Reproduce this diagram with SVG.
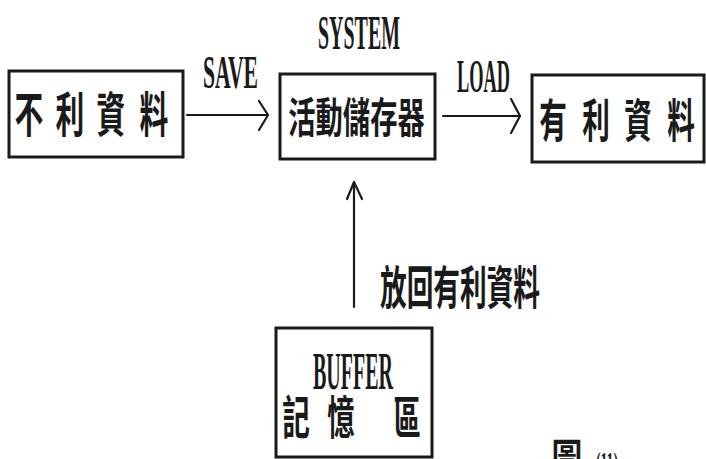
<svg xmlns="http://www.w3.org/2000/svg" width="706" height="459" viewBox="0 0 706 459">
  <style>
    .box { fill: none; stroke: #1a1a1a; stroke-width: 3; }
    .lat { font-family: "Liberation Serif", "DejaVu Serif", serif; font-weight: bold; fill: #1a1a1a; }
    .cjk { font-family: "Noto Sans CJK TC", "Noto Sans CJK SC", sans-serif; font-weight: bold; fill: #1a1a1a; text-anchor: middle; }
    .line { fill: none; stroke: #1a1a1a; stroke-width: 2.2; stroke-linecap: round; stroke-linejoin: round; }
  </style>
  <rect width="706" height="459" fill="#ffffff"/>

  <g id="connectors">
    <g id="save-arrow">
      <line class="line" x1="187" y1="115" x2="267" y2="115"/>
      <polyline class="line" points="259,101 268,115 259,130"/>
      <text class="lat" x="203" y="88" font-size="47" textLength="55" lengthAdjust="spacingAndGlyphs">SAVE</text>
    </g>
    <g id="load-arrow">
      <line class="line" x1="443" y1="116" x2="519" y2="116"/>
      <polyline class="line" points="511,99 520,116 511,133"/>
      <text class="lat" x="457" y="92" font-size="47" textLength="53" lengthAdjust="spacingAndGlyphs">LOAD</text>
    </g>
    <g id="return-arrow">
      <line class="line" x1="354" y1="307" x2="354" y2="183"/>
      <polyline class="line" points="347,199 354,182 362,199"/>
      <text class="cjk" transform="translate(460,304) scale(0.58,1)" font-size="46">放回有利資料</text>
    </g>
  </g>

  <g id="node-unfavorable">
    <rect class="box" x="9" y="71" width="174" height="86"/>
    <text class="cjk" transform="translate(29,132) scale(0.6,1)" font-size="48">不</text>
    <text class="cjk" transform="translate(70,132) scale(0.6,1)" font-size="48">利</text>
    <text class="cjk" transform="translate(111,132) scale(0.6,1)" font-size="48">資</text>
    <text class="cjk" transform="translate(154,132) scale(0.6,1)" font-size="48">料</text>
  </g>

  <g id="node-system">
    <text class="lat" x="318" y="49" font-size="48" textLength="82" lengthAdjust="spacingAndGlyphs">SYSTEM</text>
    <rect class="box" x="280" y="74" width="155" height="85"/>
    <text class="cjk" transform="translate(356.5,133) scale(0.65,1)" font-size="42">活動儲存器</text>
  </g>

  <g id="node-favorable">
    <rect class="box" x="532" y="75" width="172" height="87"/>
    <text class="cjk" transform="translate(553,137) scale(0.6,1)" font-size="46">有</text>
    <text class="cjk" transform="translate(596,137) scale(0.6,1)" font-size="46">利</text>
    <text class="cjk" transform="translate(638,137) scale(0.6,1)" font-size="46">資</text>
    <text class="cjk" transform="translate(681,137) scale(0.6,1)" font-size="46">料</text>
  </g>

  <g id="node-buffer">
    <rect class="box" x="276" y="328" width="156" height="129"/>
    <text class="lat" x="313" y="389" font-size="52" textLength="80" lengthAdjust="spacingAndGlyphs">BUFFER</text>
    <text class="cjk" transform="translate(296,434) scale(0.6,1)" font-size="46">記</text>
    <text class="cjk" transform="translate(341,434) scale(0.6,1)" font-size="46">憶</text>
    <text class="cjk" transform="translate(407,434) scale(0.6,1)" font-size="46">區</text>
  </g>

  <g id="caption">
    <text class="cjk" transform="translate(567,476) scale(0.7,1)" font-size="44">圖</text>
    <text class="lat" x="596" y="470" font-size="26" textLength="22" lengthAdjust="spacingAndGlyphs">(11)</text>
  </g>
</svg>
